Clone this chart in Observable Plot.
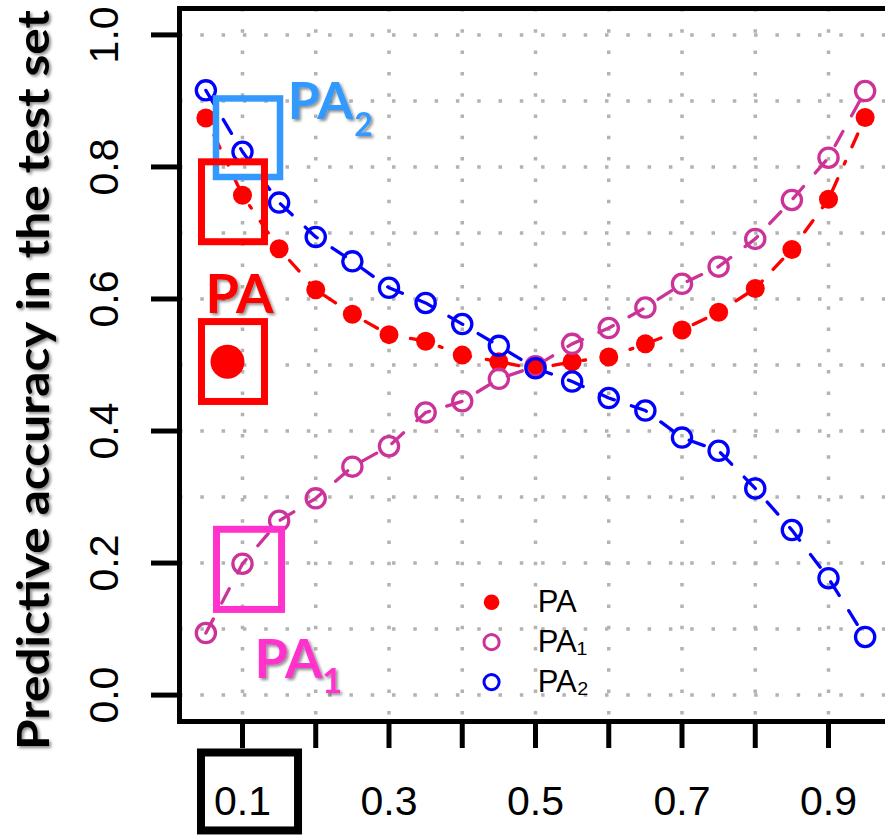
<!DOCTYPE html>
<html><head><meta charset="utf-8">
<script src="https://cdn.jsdelivr.net/npm/d3@7"></script>
<script src="https://cdn.jsdelivr.net/npm/@observablehq/plot@0.6"></script>
<style>
html,body{margin:0;padding:0;background:#fff;overflow:hidden;}
#chart svg{overflow:hidden;display:block;}
</style></head><body><div id="chart"></div>
<script>
// ---- data ----
const xValues   = [0.05,0.10,0.15,0.20,0.25,0.30,0.35,0.40,0.45,0.50,0.55,0.60,0.65,0.70,0.75,0.80,0.85,0.90,0.95];
const paValues  = [0.874,0.757,0.676,0.614,0.577,0.546,0.536,0.515,0.505,0.494,0.505,0.512,0.532,0.553,0.580,0.616,0.675,0.751,0.875];
const pa1Values = [0.094,0.199,0.264,0.298,0.346,0.377,0.428,0.445,0.479,0.498,0.532,0.556,0.587,0.623,0.649,0.691,0.750,0.814,0.915];
const pa2Values = [0.916,0.823,0.746,0.694,0.657,0.617,0.594,0.562,0.529,0.495,0.475,0.450,0.431,0.390,0.370,0.313,0.250,0.177,0.088];
const seriesNames = ["PA","PA₁","PA₂"];
const xTicks = [0.1,0.2,0.3,0.4,0.5,0.6,0.7,0.8,0.9];
const xTickLabels = ["0.1","","0.3","","0.5","","0.7","","0.9"];
const yTicks = [0,0.2,0.4,0.6,0.8,1.0];
const yTickLabels = ["0.0","0.2","0.4","0.6","0.8","1.0"];
const yGrid = [0,0.1,0.2,0.3,0.4,0.5,0.6,0.7,0.8,0.9,1.0];
const yTitle = "Predictive accuracy in the test set";

const rows = xValues.map((x,i)=>({x, pa: paValues[i], pa1: pa1Values[i], pa2: pa2Values[i]}));

const RED = "#FF0000", MAG = "#CC3399", BLUE = "#0000FF";
const legendRows = seriesNames.map((s,i)=>({label: s, y: [0.1407,0.0802,0.0197][i], sx: 0.440, tx: 0.503}));

const fmtX = d => { const i = xTicks.findIndex(t => Math.abs(t-d) < 1e-9); return i < 0 ? "" : xTickLabels[i]; };
const fmtY = d => { const i = yTicks.findIndex(t => Math.abs(t-d) < 1e-9); return i < 0 ? "" : yTickLabels[i]; };

const gridStyle = {stroke: "#b3b3b3", strokeOpacity: 1, strokeWidth: 3.5, strokeDasharray: "3.5,17.8"};
const annoFont = "Lato, 'Open Sans', sans-serif";

const plot = Plot.plot({
  width: 885, height: 836,
  marginLeft: 179, marginRight: -6, marginTop: 8, marginBottom: 115,
  x: {domain: [0.014, 0.986]},
  y: {domain: [-0.04, 1.04]},
  style: {background: "white", fontFamily: "'Liberation Sans', Arial, sans-serif", color: "black"},
  marks: [
    Plot.gridX(xTicks, gridStyle),
    Plot.gridY(yGrid, gridStyle),
    Plot.line(rows, {x: "x", y: "pa", stroke: RED, strokeWidth: 3.3, strokeDasharray: "3,16,14,16"}),
    Plot.line(rows, {x: "x", y: "pa1", stroke: MAG, strokeWidth: 3.3, strokeDasharray: "16,18"}),
    Plot.line(rows, {x: "x", y: "pa2", stroke: BLUE, strokeWidth: 3.3, strokeDasharray: "16,18"}),
    Plot.dot(rows, {x: "x", y: "pa", r: 9.5, fill: RED, stroke: "none"}),
    Plot.dot(rows, {x: "x", y: "pa1", r: 9.6, stroke: MAG, strokeWidth: 3.3, fill: "none"}),
    Plot.dot(rows, {x: "x", y: "pa2", r: 9.6, stroke: BLUE, strokeWidth: 3.3, fill: "none"}),
    Plot.frame({stroke: "black", strokeWidth: 5}),
    Plot.axisX({ticks: xTicks, tickFormat: fmtX, tickSize: 27, tickPadding: 37, fontSize: 41, strokeWidth: 5, stroke: "black", fill: "black", label: null}),
    Plot.axisY({ticks: yTicks, tickFormat: fmtY, tickRotate: -90, tickSize: 28, tickPadding: 34, fontSize: 41, strokeWidth: 5, stroke: "black", fill: "black", label: null}),
    // legend
    Plot.dot(legendRows.slice(0,1), {x: "sx", y: "y", r: 7.8, fill: RED, stroke: "none"}),
    Plot.dot(legendRows.slice(1,2), {x: "sx", y: "y", r: 7.6, stroke: MAG, strokeWidth: 3, fill: "none"}),
    Plot.dot(legendRows.slice(2,3), {x: "sx", y: "y", r: 7.6, stroke: BLUE, strokeWidth: 3, fill: "none"}),
    Plot.text(legendRows, {x: "tx", y: "y", text: "label", textAnchor: "start", fontSize: 31, fill: "black"}),
    // y title
    Plot.text([yTitle], {frameAnchor: "left", textAnchor: "middle", rotate: -90, dx: -145, dy: 15, fontSize: 44, fontWeight: "bold", fontFamily: annoFont, fill: "black", ariaDescription: "shadow"}),
    // annotations
    Plot.rect([{x1: 0.0645, x2: 0.1519, y1: 0.784, y2: 0.903}], {x1: "x1", x2: "x2", y1: "y1", y2: "y2", fill: "none", stroke: "#3399FF", strokeWidth: 6.5}),
    Plot.rect([{x1: 0.0447, x2: 0.1307, y1: 0.686, y2: 0.807}, {x1: 0.0447, x2: 0.1307, y1: 0.444, y2: 0.565}], {x1: "x1", x2: "x2", y1: "y1", y2: "y2", fill: "none", stroke: RED, strokeWidth: 7}),
    Plot.rect([{x1: 0.0652, x2: 0.154, y1: 0.129, y2: 0.2504}], {x1: "x1", x2: "x2", y1: "y1", y2: "y2", fill: "none", stroke: "#FF33CC", strokeWidth: 7}),
    Plot.rect([{x1: 0.044, x2: 0.1765, y1: -0.2058, y2: -0.0877}], {x1: "x1", x2: "x2", y1: "y1", y2: "y2", fill: "none", stroke: "black", strokeWidth: 8}),
    Plot.dot([{x: 0.0795, y: 0.505}], {x: "x", y: "y", r: 17, fill: RED, stroke: "none"}),
    Plot.text([{x: 0.0959, y: 0.5794, t: "PA"}], {x: "x", y: "y", text: "t", fill: RED, fontSize: 54, fontWeight: "bold", fontFamily: annoFont, lineAnchor: "bottom", ariaDescription: "shadow"}),
    Plot.text([{x: 0.2066, y: 0.8729, t: "PA"}], {x: "x", y: "y", text: "t", fill: "#3399FF", fontSize: 52, fontWeight: "bold", fontFamily: annoFont, lineAnchor: "bottom", ariaDescription: "shadow"}),
    Plot.text([{x: 0.2653, y: 0.8472, t: "2"}], {x: "x", y: "y", text: "t", fill: "#3399FF", fontSize: 32, fontWeight: "bold", fontFamily: annoFont, lineAnchor: "bottom", ariaDescription: "shadow"}),
    Plot.text([{x: 0.1628, y: 0.0257, t: "PA"}], {x: "x", y: "y", text: "t", fill: "#FF33CC", fontSize: 54, fontWeight: "bold", fontFamily: annoFont, lineAnchor: "bottom", ariaDescription: "shadow"}),
    Plot.text([{x: 0.2223, y: 0.003, t: "1"}], {x: "x", y: "y", text: "t", fill: "#FF33CC", fontSize: 35, fontWeight: "bold", fontFamily: annoFont, lineAnchor: "bottom", ariaDescription: "shadow"})
  ]
});

// drop-shadow filter for the bold annotation texts
const svg = d3.select(plot);
const defs = svg.insert("defs", ":first-child");
const f = defs.append("filter").attr("id", "txtshadow").attr("x", "-20%").attr("y", "-20%").attr("width", "140%").attr("height", "140%");
f.append("feDropShadow").attr("dx", 2).attr("dy", 2).attr("stdDeviation", 1.6).attr("flood-color", "#000").attr("flood-opacity", 0.45);
svg.selectAll('[aria-description="shadow"]').attr("filter", "url(#txtshadow)");
svg.selectAll("text").filter(function(){ return this.textContent === yTitle; })
  .attr("textLength", 740).attr("lengthAdjust", "spacingAndGlyphs");

document.getElementById("chart").appendChild(plot);
</script>
</body></html>
